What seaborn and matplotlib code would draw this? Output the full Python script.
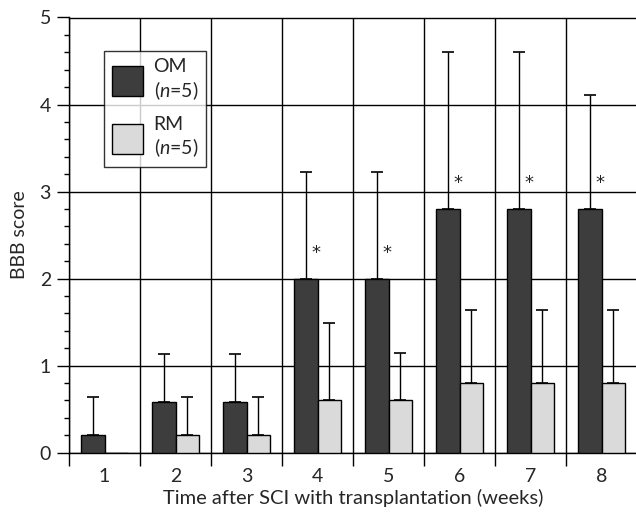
import numpy as np
import pandas as pd
import matplotlib
matplotlib.use("Agg")
import matplotlib.pyplot as plt
import seaborn as sns
from matplotlib.patches import Patch

weeks = ["1", "2", "3", "4", "5", "6", "7", "8"]
om_mean = [0.2, 0.58, 0.58, 2.0, 2.0, 2.8, 2.8, 2.8]
om_sd = [0.44, 0.55, 0.55, 1.22, 1.22, 1.8, 1.8, 1.31]
rm_mean = [0.0, 0.2, 0.2, 0.6, 0.6, 0.8, 0.8, 0.8]
rm_sd = [0.0, 0.44, 0.44, 0.89, 0.54, 0.84, 0.84, 0.84]
significant = [False, False, False, True, True, True, True, True]
groups = ["OM", "RM"]
group_labels = ["OM\n($n$=5)", "RM\n($n$=5)"]

sns.set_style("white")
plt.rcParams["font.family"] = ["Lato", "DejaVu Sans"]
plt.rcParams["mathtext.fontset"] = "custom"
plt.rcParams["mathtext.it"] = "Lato:italic"
plt.rcParams["mathtext.rm"] = "Lato"

df = pd.DataFrame({
    "week": weeks * 2,
    "group": [groups[0]] * 8 + [groups[1]] * 8,
    "score": om_mean + rm_mean,
})

fig = plt.figure(figsize=(6.36, 5.17), dpi=100)
ax = fig.add_axes([69 / 636, 1 - 452.7 / 517, 568 / 636, (452.7 - 17.5) / 517])

colors = {"OM": "#3d3d3d", "RM": "#dadada"}
sns.barplot(data=df, x="week", y="score", hue="group", palette=colors,
            width=0.66, edgecolor="black", linewidth=1.0, ax=ax,
            errorbar=None, legend=False, zorder=3)

# error bars from bar positions
bars = [p for p in ax.patches]
om_bars = bars[:8]
rm_bars = bars[8:16]
for blist, means, sds in ((om_bars, om_mean, om_sd), (rm_bars, rm_mean, rm_sd)):
    for b, m, s in zip(blist, means, sds):
        if s <= 0:
            continue
        cx = b.get_x() + b.get_width() / 2
        ax.errorbar([cx], [m], yerr=[[0], [s]], fmt="none", ecolor="black",
                    elinewidth=1.0, capsize=4, capthick=1.2, zorder=4)

for i, (b, m, sig) in enumerate(zip(om_bars, om_mean, significant)):
    if sig:
        cx = b.get_x() + b.get_width() / 2
        ax.text(cx + 0.14, m + 0.3, "*", ha="center", va="center",
                fontsize=13, color="#222222", zorder=5,
                family="DejaVu Sans")

ax.set_xlim(-0.5, 7.5)
ax.set_ylim(0, 5)
ax.set_yticks([0, 1, 2, 3, 4, 5])
ax.set_yticks(np.arange(0, 5.01, 0.2), minor=True)
ax.set_xticks(np.arange(-0.5, 7.6, 1.0), minor=True)
ax.tick_params(axis="x", which="major", length=0, labelsize=14, pad=11)
ax.tick_params(axis="x", which="minor", length=9, width=1, direction="out",
               color="black", bottom=True)
ax.tick_params(axis="y", which="major", length=9, width=1, direction="out",
               color="black", labelsize=14, left=True, pad=4)
ax.tick_params(axis="y", which="minor", length=3.5, width=1, direction="out",
               color="black", left=True)

ax.grid(False)
ax.yaxis.grid(True, which="major", color="black", linewidth=1.0)
ax.xaxis.grid(True, which="minor", color="black", linewidth=1.0)
ax.set_axisbelow(True)

for side in ("left", "bottom", "top"):
    ax.spines[side].set_visible(True)
    ax.spines[side].set_color("black")
    ax.spines[side].set_linewidth(1.0)
ax.spines["right"].set_visible(False)

ax.set_xlabel("Time after SCI with transplantation (weeks)", fontsize=14.5, labelpad=3)
ax.set_ylabel("BBB score", fontsize=14, labelpad=8)

handles = [Patch(facecolor=colors[g], edgecolor="black", linewidth=1.0) for g in groups]
leg = ax.legend(handles, group_labels, loc="upper left",
                bbox_to_anchor=(35 / 568, 1 - 33 / 435.2), fontsize=14,
                frameon=True, fancybox=False, edgecolor="black",
                handlelength=1.6, handleheight=2.0, labelspacing=0.75,
                borderpad=0.4, handletextpad=0.55, borderaxespad=0)
leg.get_frame().set_linewidth(1.0)
leg.set_zorder(6)

fig.savefig("out.png", dpi=100, facecolor="white")
